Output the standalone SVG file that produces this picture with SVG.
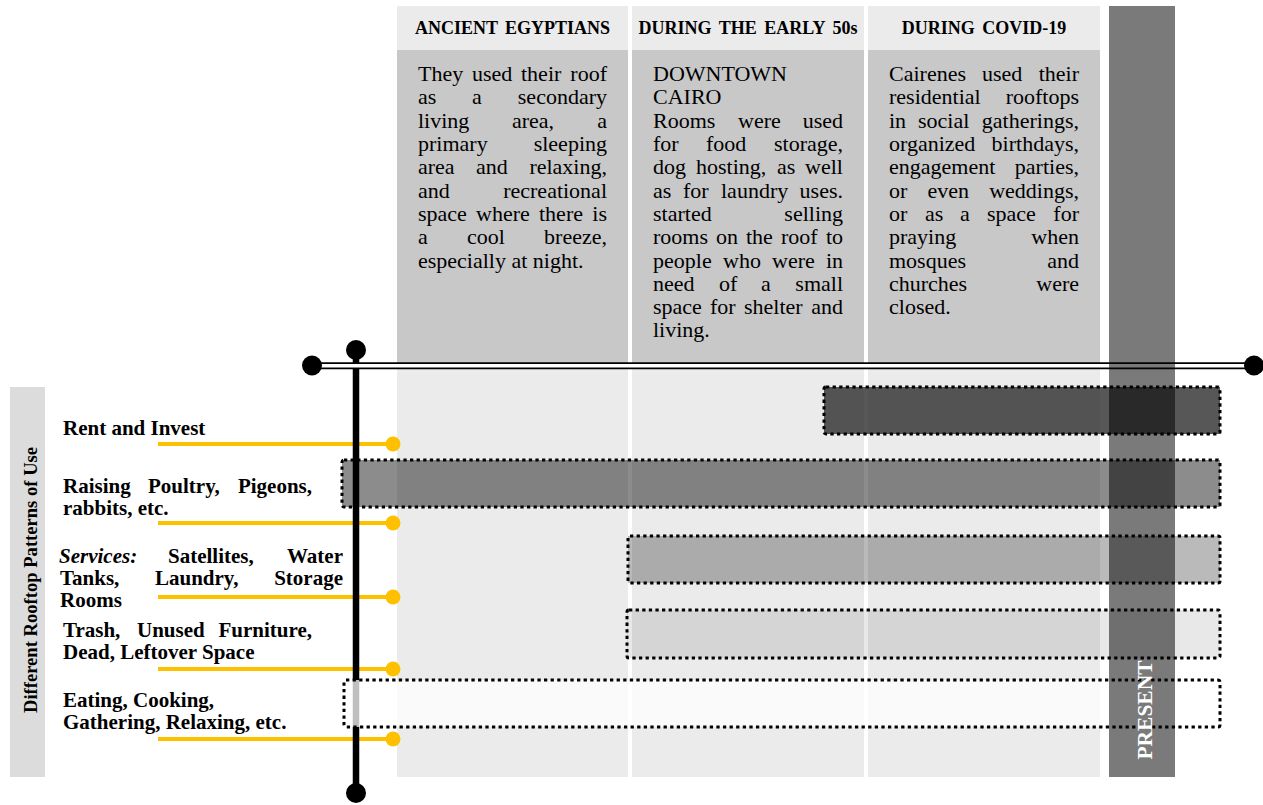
<svg xmlns="http://www.w3.org/2000/svg" width="1263" height="805" viewBox="0 0 1263 805">
<style>
.hdr{fill:#ebebeb}
.body{fill:#c8c8c8}
.low{fill:#ebebeb}
.ht{font-family:"Liberation Serif","Times New Roman",serif;font-weight:bold;font-size:18px;word-spacing:3px;text-anchor:middle;fill:#000}
.bt{font-family:"Liberation Serif","Times New Roman",serif;font-size:22px;fill:#000}
.e{text-anchor:end}
.lb{font-family:"Liberation Serif","Times New Roman",serif;font-weight:bold;font-size:21px;fill:#000}
.it{font-style:italic}
.bar{stroke:none}
.brd{fill:none;stroke:#000;stroke-width:3;stroke-dasharray:3.3 3.3}
.or{stroke:#ffc000;stroke-width:4}
.od{fill:#ffc000}
</style>

<g id="column-ancient">
<rect class="hdr" x="397" y="6" width="231" height="44"/>
<rect class="body" x="397" y="50" width="231" height="315"/>
<rect class="low" x="397" y="365" width="231" height="412"/>
<text class="ht" x="512.5" y="34">ANCIENT EGYPTIANS</text>
<g class="bt">
<text x="418" y="81">They</text><text x="472" y="81">used</text><text x="521" y="81">their</text><text class="e" x="607" y="81">roof</text>
<text x="418" y="104">as</text><text x="472" y="104">a</text><text class="e" x="607" y="104">secondary</text>
<text x="418" y="128">living</text><text x="512" y="128">area,</text><text class="e" x="607" y="128">a</text>
<text x="418" y="151">primary</text><text class="e" x="607" y="151">sleeping</text>
<text x="418" y="174">area</text><text x="476" y="174">and</text><text class="e" x="607" y="174">relaxing,</text>
<text x="418" y="198">and</text><text class="e" x="607" y="198">recreational</text>
<text x="418" y="221">space</text><text x="476" y="221">where</text><text x="539" y="221">there</text><text class="e" x="607" y="221">is</text>
<text x="418" y="244">a</text><text x="467" y="244">cool</text><text class="e" x="607" y="244">breeze,</text>
<text x="418" y="268">especially at night.</text>
</g>
</g>

<g id="column-50s">
<rect class="hdr" x="632" y="6" width="232" height="44"/>
<rect class="body" x="632" y="50" width="232" height="315"/>
<rect class="low" x="632" y="365" width="232" height="412"/>
<text class="ht" x="748" y="34">DURING THE EARLY 50s</text>
<g class="bt">
<text x="653" y="81">DOWNTOWN</text>
<text x="653" y="104">CAIRO</text>
<text x="653" y="128">Rooms</text><text x="738" y="128">were</text><text class="e" x="843" y="128">used</text>
<text x="653" y="151">for</text><text x="706" y="151">food</text><text class="e" x="843" y="151">storage,</text>
<text x="653" y="174">dog</text><text x="696" y="174">hosting,</text><text x="777" y="174">as</text><text class="e" x="843" y="174">well</text>
<text x="653" y="198">as</text><text x="683" y="198">for</text><text x="721" y="198">laundry</text><text class="e" x="843" y="198">uses.</text>
<text x="653" y="221">started</text><text class="e" x="843" y="221">selling</text>
<text x="653" y="244">rooms</text><text x="716" y="244">on</text><text x="746" y="244">the</text><text x="781" y="244">roof</text><text class="e" x="843" y="244">to</text>
<text x="653" y="268">people</text><text x="723" y="268">who</text><text x="772" y="268">were</text><text class="e" x="843" y="268">in</text>
<text x="653" y="291">need</text><text x="719" y="291">of</text><text x="761" y="291">a</text><text class="e" x="843" y="291">small</text>
<text x="653" y="314">space</text><text x="710" y="314">for</text><text x="744" y="314">shelter</text><text class="e" x="843" y="314">and</text>
<text x="653" y="337">living.</text>
</g>
</g>

<g id="column-covid">
<rect class="hdr" x="868" y="6" width="232" height="44"/>
<rect class="body" x="868" y="50" width="232" height="315"/>
<rect class="low" x="868" y="365" width="232" height="412"/>
<text class="ht" x="984" y="34">DURING COVID-19</text>
<g class="bt">
<text x="889" y="81">Cairenes</text><text x="982" y="81">used</text><text class="e" x="1079" y="81">their</text>
<text x="889" y="104">residential</text><text class="e" x="1079" y="104">rooftops</text>
<text x="889" y="128">in</text><text x="918" y="128">social</text><text class="e" x="1079" y="128">gatherings,</text>
<text x="889" y="151">organized</text><text class="e" x="1079" y="151">birthdays,</text>
<text x="889" y="174">engagement</text><text class="e" x="1079" y="174">parties,</text>
<text x="889" y="198">or</text><text x="927.5" y="198">even</text><text class="e" x="1079" y="198">weddings,</text>
<text x="889" y="221">or</text><text x="925" y="221">as</text><text x="960" y="221">a</text><text x="987" y="221">space</text><text class="e" x="1079" y="221">for</text>
<text x="889" y="244">praying</text><text class="e" x="1079" y="244">when</text>
<text x="889" y="268">mosques</text><text class="e" x="1079" y="268">and</text>
<text x="889" y="291">churches</text><text class="e" x="1079" y="291">were</text>
<text x="889" y="314">closed.</text>
</g>
</g>

<g id="axis-label">
<rect x="10" y="387" width="35" height="390" fill="#dcdcdc"/>
<text class="lb" text-anchor="middle" transform="translate(37,580) rotate(-90)" style="font-size:18.6px">Different Rooftop Patterns of Use</text>
</g>

<g id="connectors">
<g id="leaders">
<line class="or" x1="158" y1="444" x2="393" y2="444"/><circle class="od" cx="393" cy="444" r="7.5"/>
<line class="or" x1="158" y1="523" x2="393" y2="523"/><circle class="od" cx="393" cy="523" r="7.5"/>
<line class="or" x1="158" y1="597" x2="393" y2="597"/><circle class="od" cx="393" cy="597" r="7.5"/>
<line class="or" x1="158" y1="669" x2="393" y2="669"/><circle class="od" cx="393" cy="669" r="7.5"/>
<line class="or" x1="158" y1="739" x2="393" y2="739"/><circle class="od" cx="393" cy="739" r="7.5"/>
</g>
<g id="vertical-axis">
<line x1="356" y1="349" x2="356" y2="793" stroke="#000" stroke-width="6.5"/>
<circle cx="356" cy="350" r="10" fill="#000"/>
<circle cx="356" cy="793" r="10" fill="#000"/>
</g>
<g id="time-axis">
<line x1="312" y1="365.7" x2="1254" y2="365.7" stroke="#000" stroke-width="7"/>
<line x1="312" y1="365.7" x2="1254" y2="365.7" stroke="#fff" stroke-width="3.6"/>
<circle cx="312" cy="365.5" r="10" fill="#000"/>
<circle cx="1254" cy="365.5" r="10" fill="#000"/>
</g>
</g>

<g id="bar-fills">
<rect class="bar" x="824" y="387" width="396" height="47" fill="#242424" fill-opacity="0.77"/>
<rect class="bar" x="342" y="460" width="878" height="47" fill="#000" fill-opacity="0.45"/>
<rect class="bar" x="628" y="536" width="592" height="47" fill="#000" fill-opacity="0.27"/>
<rect class="bar" x="627" y="610" width="593" height="48" fill="#000" fill-opacity="0.09"/>
<rect class="bar" x="344" y="680" width="876" height="47" fill="#fff" fill-opacity="0.75"/>
</g>

<g id="present">
<rect x="1109" y="6" width="66" height="771" fill="#000" fill-opacity="0.52"/>
</g>

<g id="bars">
<rect id="bar-rent" class="brd" x="824" y="387" width="396" height="47" rx="2"/>
<rect id="bar-poultry" class="brd" x="342" y="460" width="878" height="47" rx="2"/>
<rect id="bar-services" class="brd" x="628" y="536" width="592" height="47" rx="2"/>
<rect id="bar-trash" class="brd" x="627" y="610" width="593" height="48" rx="2"/>
<rect id="bar-eating" class="brd" x="344" y="680" width="876" height="47" rx="2"/>
</g>

<text id="present-label" transform="translate(1152,710) rotate(-90)" text-anchor="middle" textLength="99" lengthAdjust="spacingAndGlyphs" style="font-family:'Liberation Serif','Times New Roman',serif;font-weight:bold;font-size:22px;fill:#fff">PRESENT</text>

<g id="labels">
<g id="label-rent"><text class="lb" x="63" y="435">Rent and Invest</text></g>
<g id="label-poultry">
<text class="lb" x="63" y="493">Raising</text><text class="lb" x="148" y="493">Poultry,</text><text class="lb e" x="312" y="493">Pigeons,</text>
<text class="lb" x="63" y="515">rabbits, etc.</text>
</g>
<g id="label-services">
<text class="lb it" x="59" y="563">Services:</text><text class="lb" x="168" y="563">Satellites,</text><text class="lb e" x="343" y="563">Water</text>
<text class="lb" x="60" y="585">Tanks,</text><text class="lb" x="155" y="585">Laundry,</text><text class="lb e" x="343" y="585">Storage</text>
<text class="lb" x="60" y="607">Rooms</text>
</g>
<g id="label-trash">
<text class="lb" x="63" y="637">Trash,</text><text class="lb" x="137" y="637">Unused</text><text class="lb e" x="312" y="637">Furniture,</text>
<text class="lb" x="63" y="659">Dead, Leftover Space</text>
</g>
<g id="label-eating">
<text class="lb" x="63" y="707">Eating, Cooking,</text>
<text class="lb" x="63" y="729">Gathering, Relaxing, etc.</text>
</g>
</g>
</svg>
